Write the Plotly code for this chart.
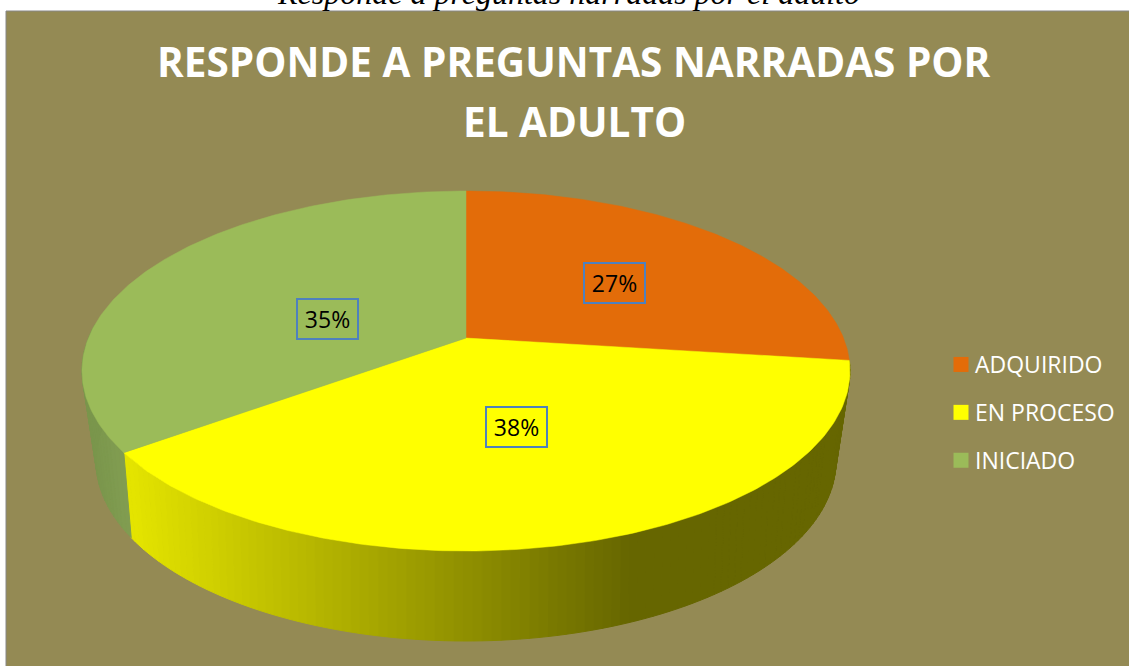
import math
import plotly.graph_objects as go

categories = ["ADQUIRIDO", "EN PROCESO", "INICIADO"]
values = [27, 38, 35]
top_colors = ["#E36C09", "#FFFF00", "#9BBB59"]

TITLE_LINES = ["RESPONDE A PREGUNTAS NARRADAS POR", "EL ADULTO"]
CAPTION = "Responde a preguntas narradas por el adulto"

W, H = 1129, 666
CX, CY, RX, RY, A = 466, 371, 384, 180, 0.183      # top disc with perspective shift
CX2, CY2, RX2, RY2 = 466, 461, 370, 180            # bottom rim
LABEL_POS = [(614, 283), (516, 427), (327, 319)]
TITLE_POS = [(574, 61.5), (574, 121.5)]


def project(theta):
    """Slice angle (deg clockwise from top) to ellipse parameter (rad)."""
    t = math.radians(theta)
    u, v = math.sin(t), math.cos(t)
    d = 1 + A * v
    return math.atan2(u * math.sqrt(1 - A * A) / d, (v + A) / d)


def top_pt(phi):
    return CX + RX * math.sin(phi), CY - RY * math.cos(phi)


def bot_pt(phi):
    # the lower rim is seen under a slightly different perspective
    q = phi - math.radians(2) * math.sin(phi)
    return CX2 + RX2 * math.sin(q), CY2 - RY2 * math.cos(q)


def mix(a, b, f):
    f = max(0.0, min(1.0, f))
    return tuple(round(a[i] + (b[i] - a[i]) * f) for i in range(3))


def yellow_side(x):
    return "rgb(%d,%d,%d)" % mix((228, 228, 0), (102, 102, 0), (x - 130) / 500)


def green_side(x):
    return "rgb(%d,%d,%d)" % mix((122, 150, 76), (130, 158, 82), (x - 85) / 45)


fig = go.Figure()
total = sum(values)
edges = [0]
for v in values:
    edges.append(edges[-1] + v / total * 360)


def add_strip(p0, p1, color):
    a, b = top_pt(p0), top_pt(p1)
    c, d = bot_pt(p1), bot_pt(p0)
    fig.add_trace(go.Scatter(
        x=[a[0], b[0], c[0], d[0], a[0]], y=[a[1], b[1], c[1], d[1], a[1]],
        mode="lines", fill="toself", fillcolor=color,
        line=dict(color=color, width=1), hoverinfo="skip", showlegend=False))


def unwrap(p):
    return p % (2 * math.pi)


N = 110
y0, y1 = unwrap(project(edges[1])), unwrap(project(edges[2]))
for i in range(N):
    p0 = y0 + (y1 - y0) * i / N
    p1 = y0 + (y1 - y0) * (i + 1) / N
    add_strip(p0, p1, yellow_side((top_pt(p0)[0] + top_pt(p1)[0]) / 2))

g1 = math.radians(285)
for i in range(24):
    p0 = y1 + (g1 - y1) * i / 24
    p1 = y1 + (g1 - y1) * (i + 1) / 24
    add_strip(p0, p1, green_side((top_pt(p0)[0] + top_pt(p1)[0]) / 2))

apex = (CX, CY - RY * A)
for k, name in enumerate(categories):
    a0, a1 = unwrap(project(edges[k])), unwrap(project(edges[k + 1]))
    if a1 <= a0:
        a1 += 2 * math.pi
    pts = [top_pt(a0 + (a1 - a0) * i / 160) for i in range(161)]
    xs = [apex[0]] + [p[0] for p in pts] + [apex[0]]
    ys = [apex[1]] + [p[1] for p in pts] + [apex[1]]
    fig.add_trace(go.Scatter(x=xs, y=ys, mode="lines", fill="toself",
                             fillcolor=top_colors[k],
                             line=dict(color=top_colors[k], width=0.5),
                             name=name, showlegend=False,
                             hovertemplate=f"{name}: {values[k]}%<extra></extra>"))

for k, name in enumerate(categories):
    fig.add_trace(go.Scatter(x=[None], y=[None], mode="markers", name=name,
                             legendgroup=name,
                             marker=dict(symbol="square", size=15, color=top_colors[k])))

annotations = [dict(x=x, y=y, xref="x", yref="y", text=f"{v}%", showarrow=False,
                    font=dict(family="Open Sans", size=23, color="#000000"),
                    width=59, height=38, align="center", valign="middle",
                    bordercolor="#4F81BD", borderwidth=2, borderpad=0)
               for (x, y), v in zip(LABEL_POS, values)]
annotations.append(dict(x=568 / W, y=1 + 7 / H, xref="paper", yref="paper",
                        text="<i>" + CAPTION + "</i>", showarrow=False,
                        font=dict(family="Liberation Serif", size=32, color="#000000"),
                        xanchor="center", yanchor="middle"))
for (x, y), line in zip(TITLE_POS, TITLE_LINES):
    annotations.append(dict(x=x, y=y, xref="x", yref="y", text=f"<b>{line}</b>",
                            showarrow=False, xanchor="center", yanchor="middle",
                            font=dict(family="Open Sans", size=40.5, color="#FFFFFF")))

fig.update_layout(
    width=W, height=H, margin=dict(l=0, r=0, t=0, b=0), autosize=False,
    paper_bgcolor="#FFFFFF", plot_bgcolor="rgba(0,0,0,0)",
    xaxis=dict(range=[0, W], visible=False, fixedrange=True),
    yaxis=dict(range=[H, 0], visible=False, fixedrange=True),
    legend=dict(x=941 / W, y=1 - 343 / H, xanchor="left", yanchor="top",
                bgcolor="rgba(0,0,0,0)", tracegroupgap=15, itemsizing="trace",
                font=dict(family="Open Sans", size=23, color="#FFFFFF")),
    annotations=annotations,
    shapes=[dict(type="rect", xref="x", yref="y", x0=6, y0=11, x1=W + 6, y1=H + 6,
                 fillcolor="#948A54", line=dict(color="#868686", width=1), layer="below")],
)
fig.write_html(
    "out.html",
    config={"displayModeBar": False},
    post_script=("document.body.style.margin='0';document.body.style.overflow='hidden';"
                 "document.querySelectorAll('.legendtext').forEach(t=>t.setAttribute('x','34'));"),
)
